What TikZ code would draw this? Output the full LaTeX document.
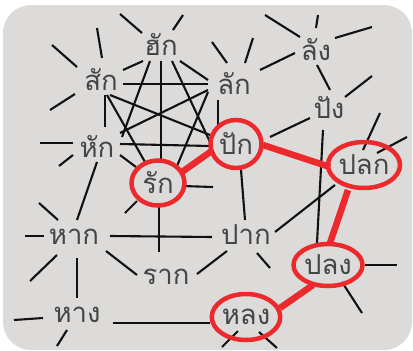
\documentclass[tikz,border=0pt]{standalone}
\usepackage{fontspec}
\newfontfamily\thaifont[Script=Thai]{Loma}
\usetikzlibrary{calc,shapes.geometric,backgrounds}
\definecolor{bgc}{HTML}{DCDBD9}
\definecolor{ringred}{HTML}{EC2A2E}
\definecolor{txt}{HTML}{454545}
\definecolor{linec}{HTML}{111111}
\begin{document}
\begin{tikzpicture}[x=1pt,y=-1pt,
  word/.style={font=\thaifont\fontsize{27.5}{30}\selectfont, text=txt, inner sep=0pt},
  ring/.style={word, ellipse, draw=ringred, line width=4.5pt},
  edge/.style={line width=2.1pt, draw=linec},
  stub/.style={line width=2.1pt, draw=linec},
  redge/.style={line width=6.5pt, draw=ringred}]
\useasboundingbox (0,0) rectangle (413,351);
% nodes
\node[word] (hak)   at (161,45)  {ฮัก};
\node[word] (sak)   at (101,80)  {สัก};
\node[word] (hhak)  at (97,147)  {หัก};
\node[word] (lak)   at (234,84)  {ลัก};
\node[word] (lang)  at (316,50)  {ลัง};
\node[word] (pang)  at (329,108) {ปัง};
\node[word] (paak)  at (246,235) {ปาก};
\node[word] (haak)  at (74,237)  {หาก};
\node[word] (raak)  at (166,277) {ราก};
\node[word] (haang) at (77,315)  {หาง};
\node[ring, minimum width=51pt, minimum height=48pt] (pak)   at (236,144) {ปัก};
\node[ring, minimum width=53pt, minimum height=45pt] (rak)   at (158,183) {รัก};
\node[ring, minimum width=68pt, minimum height=46pt] (plok)  at (364,165) {ปลก};
\node[ring, minimum width=69pt, minimum height=42pt] (plong) at (328,265) {ปลง};
\node[ring, minimum width=68pt, minimum height=46pt] (long)  at (246,317) {หลง};
\begin{pgfonlayer}{background}
\fill[bgc, rounded corners=28pt] (3,5) rectangle (412,350);
% stubs
\draw[stub] (120,14) -- (142,33);
\draw[stub] (183,15) -- (173,30);
\draw[stub] (97,28) -- (102,58);
\draw[stub] (52,45) -- (77,67);
\draw[stub] (50,110) -- (75,94);
\draw[stub] (212,42) -- (227,63);
\draw[stub] (253,38) -- (245,63);
\draw[stub] (265,15) -- (300,37);
\draw[stub] (318,15) -- (316,28);
\draw[stub] (372,27) -- (335,38);
\draw[stub] (372,76) -- (345,97);
\draw[stub] (380,113) -- (363,150);
\draw[stub] (407,137) -- (377,153);
\draw[stub] (365,265) -- (397,265);
\draw[stub] (342,282) -- (362,313);
\draw[stub] (238,331) -- (222,347);
\draw[stub] (259,332) -- (277,348);
\draw[stub] (257,253) -- (270,268);
\draw[stub] (182,186) -- (213,187);
\draw[stub] (137,201) -- (125,213);
\draw[stub] (40,143) -- (73,143);
\draw[stub] (59,166) -- (73,155);
\draw[stub] (25,236) -- (44,236);
\draw[stub] (39,203) -- (58,220);
\draw[stub] (57,255) -- (30,281);
\draw[stub] (14,320) -- (43,318);
\draw[stub] (67,330) -- (57,346);
% edges
\draw[edge] ($(hak)+(-18,16)$) -- ($(sak)+(22,-10)$);
\draw[edge] ($(hak)+(19,16)$) -- ($(lak)+(-26,-4)$);
\draw[edge] ($(hak)+(-11,16)$) -- ($(hhak)+(25,-10)$);
\draw[edge] ($(hak)+(0,16)$) -- ($(rak)+(3,-24)$);
\draw[edge] ($(hak)+(11,16)$) -- ($(pak)+(-26,-2)$);
\draw[edge] ($(sak)+(22,4)$) -- ($(lak)+(-26,0)$);
\draw[edge] ($(sak)+(4,15)$) -- ($(hhak)+(8,-20)$);
\draw[edge] ($(sak)+(6,15)$) -- ($(rak)+(-13,-21)$);
\draw[edge] ($(sak)+(9,15)$) -- ($(pak)+(-26,-9)$);
\draw[edge] ($(lak)+(-26,6)$) -- ($(hhak)+(23,-14)$);
\draw[edge] ($(lak)+(-26,8)$) -- ($(rak)+(19,-17)$);
\draw[edge] ($(lak)+(-16,16)$) -- ($(pak)+(-18,-19)$);
\draw[edge] ($(hhak)+(23,8)$) -- ($(rak)+(-22,-16)$);
\draw[edge] ($(hhak)+(23,-3)$) -- ($(pak)+(-26,2)$);
\draw[edge] ($(lak)+(26,-14)$) -- ($(lang)+(-21,3)$);
\draw[edge] ($(lang)+(1,15)$) -- ($(pang)+(1,-18)$);
\draw[edge] ($(pang)+(-19,10)$) -- ($(pak)+(34,-7)$);
\draw[edge] ($(pang)+(-6,22)$) -- ($(plong)+(-11,-22)$);
\draw[edge] ($(pak)+(5,26)$) -- ($(paak)+(-1,-15)$);
\draw[edge] ($(paak)+(29,-3)$) -- ($(plok)+(-29,20)$);
\draw[edge] ($(haak)+(36,-1)$) -- ($(paak)+(-34,2)$);
\draw[edge] ($(paak)+(-19,16)$) -- ($(raak)+(31,-3)$);
\draw[edge] ($(rak)+(1,24)$) -- ($(raak)+(-7,-25)$);
\draw[edge] ($(haak)+(3,-17)$) -- ($(hhak)+(0,15)$);
\draw[edge] ($(haak)+(3,21)$) -- ($(haang)+(0,-17)$);
\draw[edge] ($(haak)+(32,14)$) -- ($(raak)+(-29,-2)$);
\draw[edge] ($(haang)+(36,8)$) -- ($(long)+(-36,6)$);
% red path
\draw[redge] ($(rak)+(24,-11)$) -- ($(pak)+(-23,6)$);
\draw[redge] ($(pak)+(27,1)$) -- ($(plok)+(-34,2)$);
\draw[redge] ($(plok)+(-16,25)$) -- ($(plong)+(2,-22)$);
\draw[redge] ($(plong)+(-15,20)$) -- ($(long)+(34,-9)$);
\end{pgfonlayer}
\end{tikzpicture}
\end{document}
